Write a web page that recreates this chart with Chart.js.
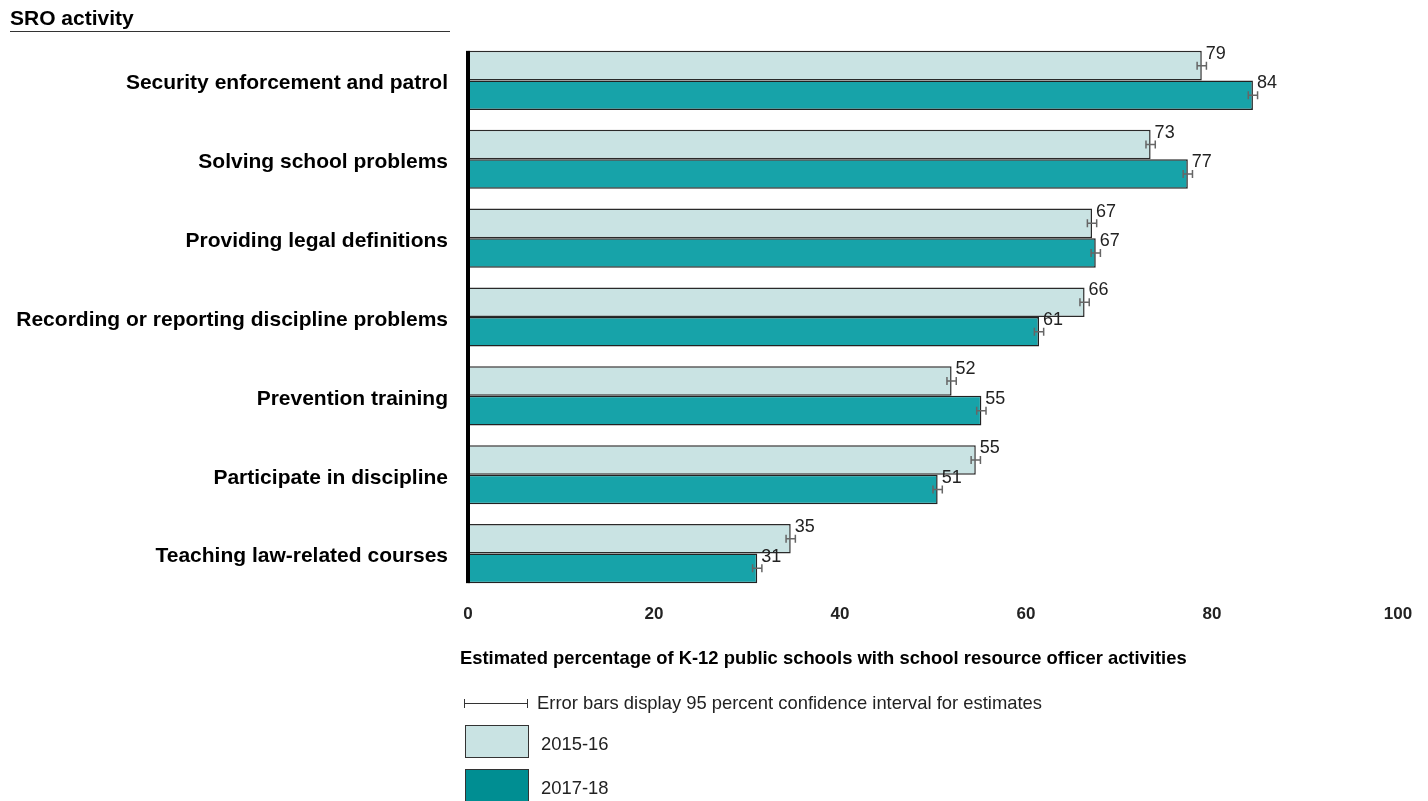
<!DOCTYPE html>
<html>
<head>
<meta charset="utf-8">
<script src="https://cdn.jsdelivr.net/npm/chart.js@4/dist/chart.umd.min.js"></script>
<style>
  body { margin: 0; background: #fff; font-family: "Liberation Sans", Arial, sans-serif; color: #222; }
  #wrap { position: relative; width: 1428px; height: 801px; overflow: hidden; }
  #chart { position: absolute; left: 0; top: 0; }
  .abs { position: absolute; white-space: nowrap; }
  #title { left: 10px; top: 6px; font-weight: bold; font-size: 21px; color: #000; width: 440px; border-bottom: 1px solid #333; padding-bottom: 1px; line-height: 24px; }
  #xtitle { left: 460px; top: 647px; font-weight: bold; font-size: 18.4px; color: #000; }
  .legtxt { font-size: 18.4px; color: #222; }
  .box { position: absolute; width: 62px; height: 31px; border: 1px solid #333; }
</style>
</head>
<body>
<div id="wrap">
  <canvas id="chart" width="1428" height="801"></canvas>
  <div id="title" class="abs">SRO activity</div>
  <div id="xtitle" class="abs">Estimated percentage of K-12 public schools with school resource officer activities</div>
  <!-- error bar legend sample -->
  <div class="abs" style="left:464px;top:703px;width:64px;height:1px;background:#333"></div>
  <div class="abs" style="left:464px;top:699px;width:1px;height:9px;background:#333"></div>
  <div class="abs" style="left:527px;top:699px;width:1px;height:9px;background:#333"></div>
  <div class="abs legtxt" style="left:537px;top:692px">Error bars display 95 percent confidence interval for estimates</div>
  <div class="box" style="left:465px;top:725px;background:#c9e3e3"></div>
  <div class="abs legtxt" style="left:541px;top:733px">2015-16</div>
  <div class="box" style="left:465px;top:769px;background:#008e92"></div>
  <div class="abs legtxt" style="left:541px;top:777px">2017-18</div>
</div>
<script>
// data
const activities = [
  'Security enforcement and patrol',
  'Solving school problems',
  'Providing legal definitions',
  'Recording or reporting discipline problems',
  'Prevention training',
  'Participate in discipline',
  'Teaching law-related courses'
];
const values1516 = [78.9, 73.4, 67.1, 66.3, 52.0, 54.6, 34.7];
const values1718 = [84.4, 77.4, 67.5, 61.4, 55.2, 50.5, 31.1];
const labels1516 = [79, 73, 67, 66, 52, 55, 35];
const labels1718 = [84, 77, 67, 61, 55, 51, 31];
const err1516 = [0.5, 0.5, 0.5, 0.5, 0.5, 0.5, 0.5];
const err1718 = [0.5, 0.5, 0.5, 0.5, 0.5, 0.5, 0.5];
const xTicks = [0, 20, 40, 60, 80, 100];

const errors = [err1516, err1718];
const valueLabels = [labels1516, labels1718];

// error bars + value labels at the bar ends
const barExtras = {
  id: 'barExtras',
  afterDatasetsDraw(chart) {
    const ctx = chart.ctx;
    const xs = chart.scales.x;
    chart.data.datasets.forEach((ds, di) => {
      const meta = chart.getDatasetMeta(di);
      meta.data.forEach((bar, i) => {
        const v = ds.data[i];
        const e = errors[di][i];
        const x1 = xs.getPixelForValue(v - e);
        const x2 = xs.getPixelForValue(v + e);
        const y = bar.y;
        ctx.save();
        ctx.strokeStyle = '#666';
        ctx.lineWidth = 1.5;
        ctx.beginPath();
        ctx.moveTo(x1, y); ctx.lineTo(x2, y);
        ctx.moveTo(x1, y - 4); ctx.lineTo(x1, y + 4);
        ctx.moveTo(x2, y - 4); ctx.lineTo(x2, y + 4);
        ctx.stroke();
        ctx.fillStyle = '#222';
        ctx.font = '18px "Liberation Sans", Arial, sans-serif';
        ctx.textAlign = 'left';
        ctx.textBaseline = 'middle';
        ctx.fillText(valueLabels[di][i], bar.x + 4, bar.y - bar.height / 2 + 3);
        ctx.restore();
      });
    });
    // thick left axis line spanning the bars
    const first = chart.getDatasetMeta(0).data[0];
    const last = chart.getDatasetMeta(1).data[activities.length - 1];
    ctx.save();
    ctx.fillStyle = '#000';
    ctx.fillRect(chart.chartArea.left - 2, first.y - first.height / 2, 4, (last.y + last.height / 2) - (first.y - first.height / 2));
    ctx.restore();
  }
};

new Chart(document.getElementById('chart'), {
  type: 'bar',
  data: {
    labels: activities,
    datasets: [
      {
        label: '2015-16',
        data: values1516,
        backgroundColor: '#c9e3e3',
        borderColor: '#2a2a2a',
        borderWidth: 1.5,
        borderSkipped: false,
        categoryPercentage: 0.75,
        barPercentage: 1.0
      },
      {
        label: '2017-18',
        data: values1718,
        backgroundColor: '#17a3a9',
        borderColor: '#222',
        borderWidth: 1.5,
        borderSkipped: false,
        categoryPercentage: 0.75,
        barPercentage: 1.0
      }
    ]
  },
  options: {
    indexAxis: 'y',
    responsive: false,
    animation: false,
    layout: { padding: { top: 41, right: 30, bottom: 168, left: 0 } },
    plugins: {
      legend: { display: false },
      tooltip: { enabled: false }
    },
    scales: {
      x: {
        min: 0,
        max: 100,
        afterBuildTicks: axis => { axis.ticks = xTicks.map(v => ({ value: v })); },
        afterFit: axis => { axis.height = 40; },
        grid: { display: false, drawTicks: false },
        border: { display: false },
        ticks: {
          padding: 11,
          color: '#222',
          font: { family: '"Liberation Sans", Arial, sans-serif', size: 17, weight: 'bold' }
        }
      },
      y: {
        afterFit: axis => { axis.width = 468; },
        grid: { display: false, drawTicks: false },
        border: { display: false },
        ticks: {
          padding: 20,
          labelOffset: 3,
          color: '#000',
          font: { family: '"Liberation Sans", Arial, sans-serif', size: 21, weight: 'bold' }
        }
      }
    }
  },
  plugins: [barExtras]
});
</script>
</body>
</html>
